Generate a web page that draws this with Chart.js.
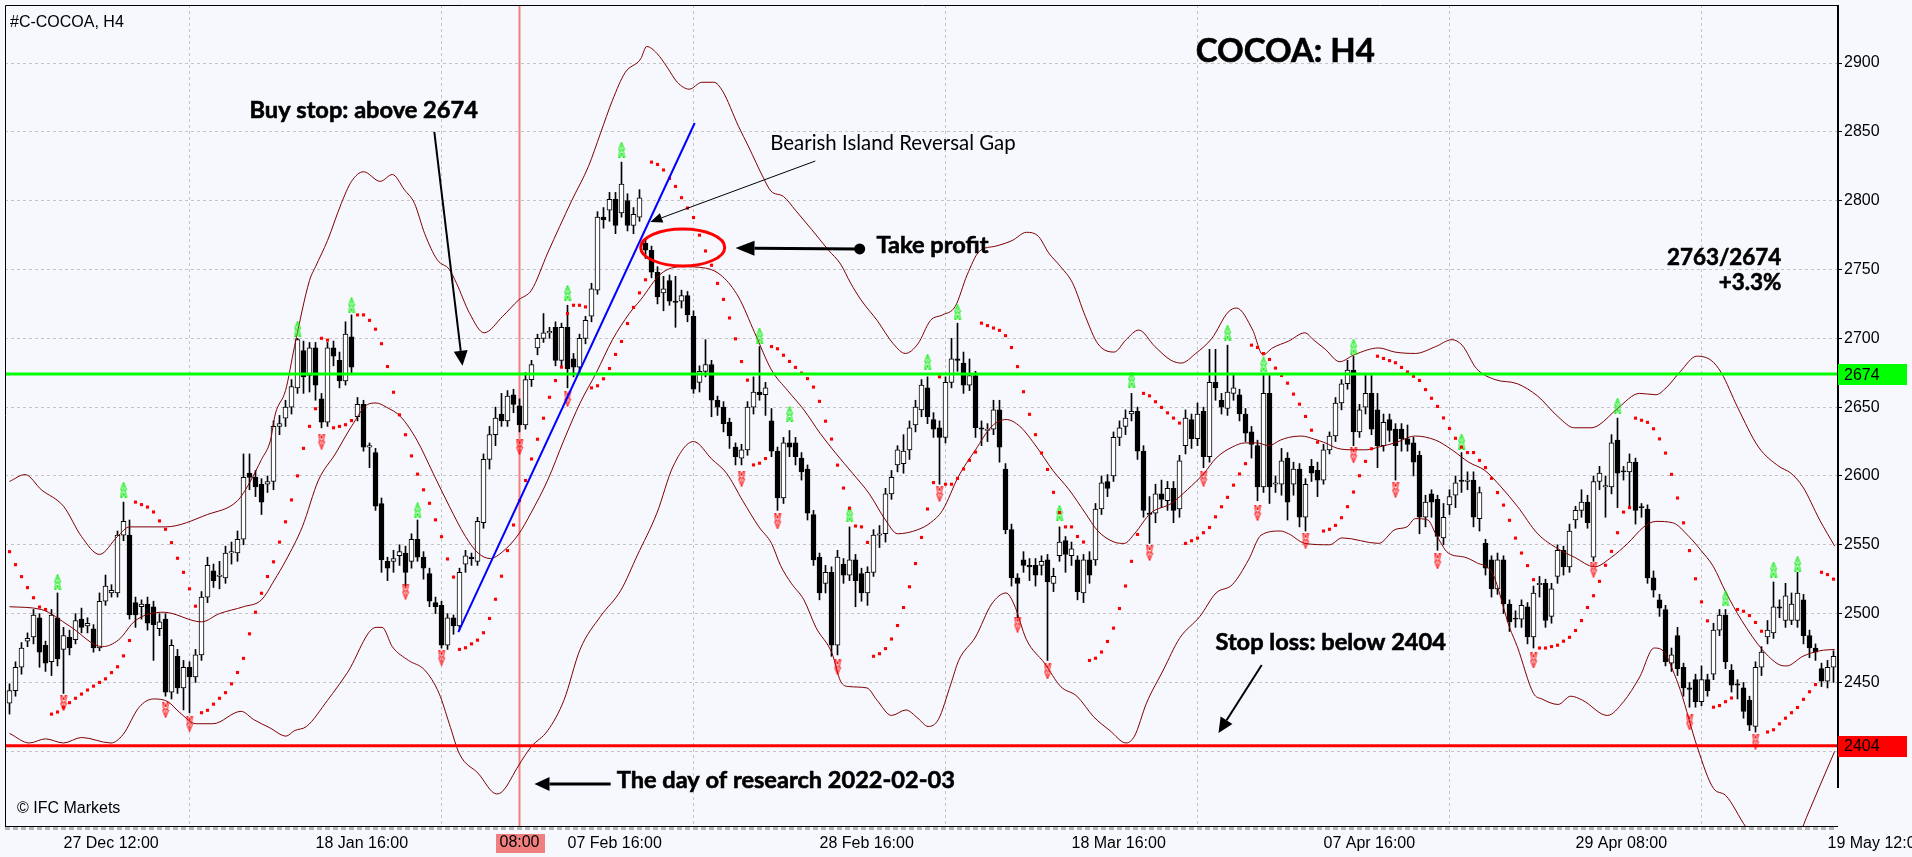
<!DOCTYPE html>
<html>
<head>
<meta charset="utf-8">
<title>COCOA: H4</title>
<script src="https://cdn.jsdelivr.net/npm/chart.js@4.4.1/dist/chart.umd.min.js"></script>
<style>
  html, body { margin: 0; padding: 0; background: #f6f8fe; }
  #wrap { width: 1912px; height: 857px; }
</style>
</head>
<body>
<div id="wrap"><canvas id="cocoachart" width="1912" height="857"></canvas></div>
<script>
"use strict";

/* H4 candles, oldest first (bar 0 .. 304) */
var barOpen = [
    2435, 2444, 2461, 2480, 2483, 2497, 2477, 2465, 2497, 2474,
    2483, 2481, 2496, 2491, 2489, 2475, 2509, 2515, 2515, 2557,
    2557, 2508, 2505, 2507, 2505, 2489, 2496, 2443, 2469, 2446,
    2461, 2454, 2470, 2512, 2531, 2527, 2526, 2544, 2544, 2554,
    2602, 2599, 2594, 2594, 2596, 2636, 2642, 2650, 2664, 2691,
    2673, 2693, 2656, 2639, 2693, 2684, 2669, 2701, 2643, 2652,
    2621, 2617, 2580, 2538, 2538, 2542, 2544, 2538, 2554, 2541,
    2529, 2508, 2506, 2477, 2497, 2491, 2536, 2541, 2538, 2566,
    2612, 2630, 2645, 2640, 2659, 2651, 2637, 2670, 2693, 2700,
    2704, 2708, 2684, 2708, 2685, 2679, 2700, 2716, 2735, 2788,
    2793, 2801, 2791, 2800, 2782, 2788, 2769, 2764, 2748, 2733,
    2742, 2727, 2727, 2731, 2716, 2668, 2676, 2681, 2655, 2650,
    2639, 2621, 2613, 2619, 2650, 2661, 2659, 2640, 2618, 2584,
    2624, 2624, 2613, 2605, 2572, 2541, 2522, 2530, 2477, 2536,
    2528, 2539, 2529, 2515, 2530, 2557, 2558, 2587, 2608, 2609,
    2619, 2637, 2648, 2664, 2641, 2635, 2628, 2668, 2685, 2682,
    2666, 2673, 2635, 2633, 2634, 2648, 2605, 2561, 2526, 2539,
    2535, 2535, 2535, 2539, 2522, 2542, 2553, 2542, 2539, 2515,
    2539, 2539, 2576, 2596, 2600, 2628, 2636, 2645, 2647, 2618,
    2573, 2573, 2587, 2582, 2591, 2576, 2622, 2641, 2627, 2647,
    2614, 2668, 2655, 2649, 2660, 2659, 2645, 2632, 2622, 2592,
    2660, 2594, 2594, 2613, 2594, 2605, 2570, 2607, 2604, 2597,
    2619, 2629, 2653, 2667, 2677, 2632, 2650, 2660, 2648, 2622,
    2641, 2634, 2634, 2627, 2624, 2615, 2570, 2587, 2583, 2555,
    2579, 2586, 2597, 2596, 2597, 2569, 2551, 2539, 2518, 2539,
    2507, 2496, 2496, 2505, 2483, 2521, 2522, 2498, 2527, 2546,
    2534, 2568, 2575, 2581, 2541, 2596, 2592, 2592, 2626, 2603,
    2603, 2610, 2577, 2576, 2526, 2510, 2503, 2464, 2484, 2461,
    2446, 2452, 2436, 2452, 2456, 2488, 2499, 2459, 2449, 2446,
    2437, 2418, 2461, 2483, 2486, 2505, 2495, 2495, 2495, 2510,
    2484, 2475, 2460, 2451, 2461
];
var barHigh = [
    2449, 2465, 2479, 2486, 2503, 2500, 2480, 2503, 2515, 2490,
    2488, 2500, 2504, 2497, 2492, 2515, 2528, 2521, 2560, 2581,
    2568, 2512, 2510, 2512, 2509, 2500, 2500, 2481, 2474, 2466,
    2465, 2474, 2516, 2541, 2536, 2538, 2549, 2552, 2560, 2616,
    2616, 2604, 2598, 2600, 2640, 2644, 2655, 2670, 2700, 2698,
    2697, 2697, 2660, 2697, 2698, 2690, 2712, 2717, 2657, 2655,
    2624, 2620, 2584, 2541, 2546, 2550, 2549, 2558, 2568, 2545,
    2533, 2512, 2509, 2500, 2499, 2533, 2546, 2544, 2570, 2616,
    2636, 2650, 2660, 2662, 2663, 2656, 2675, 2684, 2703, 2718,
    2708, 2712, 2711, 2724, 2689, 2703, 2716, 2740, 2792, 2795,
    2806, 2806, 2828, 2805, 2795, 2808, 2772, 2767, 2752, 2745,
    2746, 2745, 2735, 2734, 2720, 2680, 2699, 2684, 2658, 2654,
    2642, 2624, 2623, 2654, 2672, 2694, 2668, 2649, 2621, 2628,
    2633, 2628, 2617, 2608, 2575, 2544, 2535, 2534, 2546, 2540,
    2563, 2543, 2533, 2534, 2561, 2564, 2591, 2604, 2622, 2630,
    2640, 2655, 2670, 2672, 2646, 2640, 2672, 2700, 2711, 2690,
    2685, 2676, 2640, 2638, 2655, 2655, 2609, 2565, 2529, 2545,
    2540, 2540, 2542, 2543, 2533, 2563, 2556, 2552, 2542, 2543,
    2545, 2580, 2600, 2601, 2632, 2640, 2648, 2660, 2650, 2622,
    2585, 2594, 2597, 2596, 2596, 2615, 2648, 2645, 2653, 2650,
    2692, 2692, 2660, 2695, 2674, 2663, 2649, 2636, 2626, 2673,
    2673, 2600, 2620, 2617, 2610, 2609, 2598, 2612, 2610, 2623,
    2632, 2657, 2670, 2684, 2687, 2652, 2673, 2673, 2660, 2645,
    2645, 2638, 2638, 2637, 2628, 2618, 2586, 2590, 2586, 2580,
    2590, 2600, 2617, 2603, 2603, 2592, 2554, 2542, 2544, 2542,
    2510, 2502, 2510, 2508, 2520, 2527, 2525, 2522, 2550, 2549,
    2565, 2578, 2590, 2586, 2600, 2607, 2600, 2630, 2642, 2607,
    2616, 2613, 2580, 2579, 2531, 2514, 2506, 2475, 2490, 2464,
    2450, 2456, 2462, 2456, 2493, 2503, 2503, 2463, 2452, 2450,
    2440, 2465, 2476, 2495, 2523, 2510, 2522, 2515, 2530, 2514,
    2488, 2478, 2464, 2466, 2473
];
var barLow = [
    2427, 2440, 2456, 2476, 2478, 2461, 2458, 2455, 2462, 2442,
    2470, 2478, 2486, 2486, 2472, 2473, 2506, 2512, 2512, 2553,
    2496, 2490, 2496, 2488, 2466, 2484, 2440, 2438, 2442, 2430,
    2428, 2450, 2466, 2508, 2519, 2518, 2522, 2536, 2538, 2550,
    2590, 2585, 2572, 2588, 2590, 2630, 2636, 2645, 2660, 2660,
    2661, 2655, 2635, 2636, 2680, 2664, 2666, 2675, 2640, 2618,
    2606, 2575, 2530, 2524, 2530, 2535, 2520, 2533, 2538, 2525,
    2505, 2500, 2475, 2474, 2485, 2488, 2530, 2535, 2535, 2562,
    2605, 2622, 2636, 2636, 2646, 2632, 2634, 2665, 2688, 2697,
    2700, 2680, 2680, 2664, 2672, 2674, 2696, 2712, 2732, 2780,
    2785, 2776, 2788, 2778, 2776, 2785, 2758, 2744, 2725, 2720,
    2724, 2708, 2722, 2712, 2660, 2661, 2672, 2643, 2644, 2632,
    2620, 2608, 2608, 2615, 2645, 2655, 2644, 2614, 2575, 2580,
    2614, 2608, 2597, 2568, 2535, 2510, 2515, 2469, 2470, 2522,
    2524, 2505, 2509, 2506, 2527, 2548, 2552, 2583, 2603, 2602,
    2612, 2632, 2643, 2638, 2628, 2594, 2624, 2664, 2676, 2660,
    2662, 2628, 2622, 2625, 2630, 2610, 2558, 2520, 2497, 2530,
    2524, 2520, 2528, 2466, 2516, 2538, 2530, 2535, 2510, 2508,
    2522, 2535, 2572, 2585, 2596, 2622, 2630, 2640, 2612, 2570,
    2551, 2566, 2577, 2575, 2566, 2570, 2616, 2620, 2622, 2606,
    2610, 2655, 2645, 2644, 2655, 2640, 2625, 2613, 2582, 2588,
    2580, 2588, 2586, 2568, 2586, 2563, 2560, 2596, 2585, 2594,
    2616, 2625, 2648, 2663, 2622, 2628, 2645, 2630, 2606, 2618,
    2625, 2597, 2618, 2618, 2600, 2558, 2563, 2570, 2546, 2550,
    2572, 2577, 2588, 2590, 2563, 2560, 2528, 2512, 2514, 2500,
    2487, 2490, 2490, 2478, 2475, 2512, 2490, 2493, 2522, 2528,
    2530, 2562, 2570, 2562, 2538, 2590, 2570, 2587, 2577, 2597,
    2578, 2565, 2570, 2522, 2512, 2498, 2462, 2458, 2455, 2440,
    2432, 2432, 2433, 2440, 2452, 2484, 2460, 2443, 2438, 2424,
    2415, 2414, 2455, 2478, 2482, 2497, 2490, 2492, 2490, 2478,
    2468, 2466, 2447, 2446, 2450
];
var barClose = [
    2444, 2461, 2475, 2482, 2499, 2472, 2464, 2499, 2467, 2484,
    2475, 2495, 2490, 2493, 2475, 2509, 2520, 2517, 2557, 2567,
    2499, 2499, 2507, 2493, 2492, 2494, 2443, 2477, 2446, 2461,
    2454, 2470, 2512, 2535, 2524, 2528, 2544, 2545, 2554, 2599,
    2599, 2592, 2581, 2596, 2636, 2638, 2650, 2665, 2699, 2672,
    2693, 2666, 2639, 2693, 2687, 2669, 2703, 2679, 2652, 2621,
    2622, 2578, 2539, 2533, 2540, 2545, 2530, 2554, 2541, 2533,
    2509, 2505, 2477, 2497, 2491, 2530, 2542, 2540, 2567, 2612,
    2630, 2642, 2640, 2658, 2652, 2637, 2670, 2681, 2700, 2704,
    2705, 2684, 2708, 2678, 2679, 2700, 2713, 2736, 2788, 2786,
    2801, 2782, 2812, 2782, 2790, 2802, 2764, 2748, 2730, 2736,
    2727, 2726, 2731, 2717, 2663, 2676, 2681, 2655, 2650, 2638,
    2629, 2614, 2619, 2650, 2661, 2659, 2664, 2618, 2584, 2624,
    2621, 2614, 2603, 2573, 2539, 2515, 2530, 2477, 2541, 2528,
    2539, 2524, 2515, 2530, 2557, 2558, 2587, 2599, 2619, 2618,
    2635, 2650, 2666, 2643, 2634, 2628, 2668, 2685, 2684, 2666,
    2673, 2635, 2634, 2634, 2648, 2621, 2561, 2526, 2522, 2535,
    2534, 2528, 2538, 2523, 2527, 2552, 2543, 2547, 2516, 2539,
    2528, 2576, 2595, 2591, 2628, 2635, 2642, 2647, 2618, 2575,
    2572, 2587, 2583, 2591, 2575, 2611, 2642, 2627, 2645, 2614,
    2668, 2664, 2650, 2661, 2664, 2645, 2631, 2623, 2592, 2660,
    2592, 2595, 2611, 2581, 2605, 2570, 2594, 2602, 2597, 2619,
    2629, 2653, 2667, 2677, 2632, 2648, 2660, 2634, 2622, 2639,
    2633, 2622, 2627, 2623, 2610, 2570, 2581, 2581, 2556, 2570,
    2585, 2595, 2596, 2597, 2570, 2588, 2533, 2518, 2539, 2507,
    2494, 2496, 2506, 2483, 2515, 2522, 2495, 2518, 2546, 2534,
    2560, 2575, 2581, 2566, 2596, 2602, 2593, 2624, 2602, 2603,
    2610, 2575, 2577, 2526, 2517, 2504, 2465, 2470, 2460, 2446,
    2445, 2436, 2452, 2444, 2488, 2499, 2465, 2448, 2448, 2429,
    2419, 2461, 2472, 2488, 2505, 2504, 2513, 2507, 2515, 2484,
    2475, 2472, 2451, 2461, 2469
];

/* time axis: bar index of each grid line and its label */
var tickBars = [9, 51, 93, 135, 177, 219, 261, 303];
var tickLabels = ['27 Dec 12:00', '18 Jan 16:00', '07 Feb 16:00', '28 Feb 16:00',
    '18 Mar 16:00', '07 Apr 16:00', '29 Apr 08:00', '19 May 12:00'];
var priceTicks = [2400, 2450, 2500, 2550, 2600, 2650, 2700, 2750, 2800, 2850, 2900];

/* bollinger bands, [bar, price] */
var bbUpper = [
    [0, 2596], [2.6, 2601], [5.3, 2590], [9, 2578], [12, 2556], [15, 2543], [18, 2556], [20, 2563],
    [26, 2563], [33, 2572], [38, 2582], [40, 2595], [42, 2612], [43.5, 2626], [44.3, 2645], [46, 2662],
    [47.5, 2694], [50, 2742], [51, 2752], [53, 2771], [55.3, 2798], [57, 2814], [59, 2821], [61.8, 2814],
    [63.8, 2819], [65.8, 2808], [67.5, 2798], [69.2, 2776], [71.3, 2757], [73.3, 2750], [74.5, 2740],
    [76.7, 2718], [79.1, 2704], [82.2, 2716], [84.9, 2728], [87, 2735], [89.7, 2762], [93.7, 2800],
    [96.5, 2825], [98.5, 2849], [100.5, 2873], [102.6, 2893], [105.2, 2903], [106.2, 2912], [107.9, 2907],
    [109.6, 2897], [111.3, 2886], [113.3, 2881], [115.4, 2886], [117.4, 2886], [118.8, 2880], [121.5, 2854],
    [123.2, 2839], [125.6, 2817], [126.9, 2807], [129, 2803], [131, 2793], [133.7, 2779], [136.5, 2764],
    [138.5, 2754], [140.2, 2740], [141.9, 2728], [144.6, 2713], [147.3, 2696], [149.3, 2689], [151.4, 2696],
    [153.5, 2713], [155.5, 2717], [157.6, 2723], [159.6, 2746], [161.6, 2763], [164.4, 2767], [167.1, 2771],
    [169.5, 2777], [171.5, 2774], [173.2, 2762], [175.2, 2752], [177.2, 2740], [179.3, 2716], [181.4, 2696],
    [184.1, 2690], [186.1, 2699], [188.2, 2706], [190.9, 2694], [193.6, 2684], [195.3, 2682], [197.7, 2689],
    [200.4, 2700], [203.1, 2719], [204.5, 2722], [207.2, 2706], [208.9, 2688], [210.5, 2693], [213.2, 2698],
    [215.9, 2704], [217.3, 2699], [219.3, 2692], [221.7, 2683], [224.1, 2688], [228.2, 2693], [230.9, 2690],
    [234.3, 2689], [237.7, 2694], [240.4, 2699], [242.1, 2695], [244.5, 2678], [247.6, 2670], [251.3, 2667],
    [254.7, 2658], [258.1, 2643], [260.8, 2635], [263.6, 2635], [264.9, 2637], [268, 2649], [271.7, 2660],
    [274.4, 2659], [276.1, 2664], [278.5, 2676], [281.2, 2687], [283.6, 2684], [285.3, 2675], [288, 2650],
    [291.5, 2621], [294.9, 2607], [296.9, 2602], [298.9, 2592], [301.7, 2568], [304.2, 2549]
];
var bbMiddle = [
    [0, 2505], [5.3, 2503], [10, 2491], [15.5, 2476], [18.2, 2481], [21, 2495], [25.7, 2501], [32, 2494],
    [35, 2500], [39, 2505], [42, 2510], [44.1, 2524], [46.1, 2539], [48.8, 2563], [51.5, 2597], [54.3, 2616],
    [57, 2636], [59.7, 2652], [61.1, 2653], [62.8, 2650], [65.2, 2643], [67.9, 2626], [70.6, 2602],
    [73.3, 2578], [76, 2556], [78.1, 2544], [80.1, 2540], [82.2, 2545], [84.9, 2558], [86.9, 2573],
    [89.7, 2597], [92.4, 2626], [95.1, 2653], [97.8, 2675], [100.5, 2699], [103.3, 2718], [105.2, 2728],
    [108.6, 2747], [112, 2752], [116, 2751], [118.8, 2745], [121.5, 2730], [124.2, 2704], [127, 2677],
    [129.7, 2662], [132.4, 2648], [135.1, 2631], [137.8, 2616], [140.5, 2602], [143.3, 2587], [146, 2568],
    [148, 2558], [151.4, 2561], [153.5, 2566], [155.5, 2575], [158.2, 2600], [161, 2619], [163.7, 2636],
    [166.1, 2641], [168.4, 2636], [171.2, 2621], [173.9, 2604], [176.6, 2590], [179.3, 2573], [181.4, 2560],
    [184.1, 2552], [185.8, 2551], [187.5, 2558], [190.2, 2573], [193.6, 2580], [196.3, 2590], [199.1, 2602],
    [201.1, 2613], [203.8, 2621], [205.9, 2624], [207.9, 2624], [209.9, 2622], [211.8, 2626], [213.2, 2628],
    [215.3, 2629], [217.3, 2627], [219.3, 2624], [221.4, 2620], [224.1, 2619], [226.1, 2619], [228.2, 2621],
    [230.9, 2624], [234.3, 2629], [237.7, 2626], [240.4, 2619], [243.2, 2610], [245.9, 2604], [248.6, 2592],
    [251.3, 2578], [254.7, 2558], [258.1, 2547], [260.8, 2541], [264.2, 2534], [267, 2541], [269.7, 2551],
    [272.4, 2563], [274.4, 2567], [277.2, 2566], [279.9, 2556], [281.9, 2546], [284, 2534], [286, 2516],
    [288.7, 2495], [292.1, 2474], [294.9, 2463], [296.2, 2462], [298.9, 2469], [301.7, 2473], [304.2, 2474]
];
var bbLower = [
    [0, 2413], [3.3, 2406], [6, 2409], [9, 2406], [12, 2410], [16.9, 2406], [18.9, 2412], [21.6, 2432],
    [24, 2438], [26.4, 2436], [28.4, 2428], [31.1, 2420], [33.9, 2420], [38.6, 2429], [40.7, 2423],
    [43.4, 2417], [46.1, 2411], [47.5, 2415], [49.5, 2418], [53, 2437], [56.3, 2457], [61.1, 2490],
    [62.1, 2490], [63.8, 2476], [66.5, 2466], [69.2, 2459], [71.6, 2442], [73.3, 2420], [75, 2398],
    [78.1, 2384], [81.2, 2369], [82.2, 2371], [84.9, 2390], [86.9, 2403], [89.7, 2415], [92.4, 2437],
    [95.1, 2474], [98.5, 2498], [101.9, 2517], [104.6, 2542], [107.9, 2573], [110.6, 2607], [114, 2625],
    [117.1, 2612], [119.5, 2602], [122.2, 2582], [124.9, 2563], [127, 2551], [128.5, 2535], [130.3, 2522],
    [132.4, 2510], [134.4, 2490], [137.1, 2471], [138.5, 2451], [139.9, 2447], [142.9, 2446], [144.6, 2437],
    [147, 2426], [149.4, 2430], [151.4, 2424], [153.1, 2418], [154.8, 2423], [156.9, 2449], [158.2, 2466],
    [161, 2483], [163.7, 2507], [166.1, 2515], [167.4, 2507], [169.5, 2481], [172.5, 2464], [175.2, 2447],
    [177.9, 2440], [180.7, 2425], [183.4, 2415], [186.1, 2406], [187.5, 2411], [189.5, 2435], [192.3, 2459],
    [195, 2482], [198.4, 2498], [201.1, 2515], [203.8, 2521], [206.5, 2539], [208.6, 2557], [211.8, 2560],
    [213.2, 2558], [215.9, 2551], [220, 2550], [222.1, 2555], [228.2, 2551], [230.9, 2561], [232.9, 2563],
    [234.3, 2569], [236.4, 2568], [237.7, 2558], [239.8, 2544], [242.5, 2541], [244.5, 2537], [247.2, 2529],
    [250, 2490], [251.3, 2476], [254, 2442], [255.4, 2438], [258.1, 2434], [260.2, 2440], [262.2, 2437],
    [266.3, 2426], [269, 2436], [271.7, 2454], [274.1, 2475], [275.8, 2472], [277.2, 2459], [278.5, 2444],
    [281.3, 2403], [284, 2373], [286, 2368], [289.4, 2345], [292, 2332], [295, 2326], [298, 2336],
    [299.5, 2352], [304.2, 2400]
];

/* fractal arrows, [bar, price] */
var fractalUp = [
    [8, 2523], [19, 2590], [48, 2707], [57, 2724], [68, 2575], [93, 2733], [102, 2837], [125, 2702],
    [130, 2645], [140, 2572], [153, 2683], [158, 2719], [175, 2573], [187, 2670], [203, 2704], [209, 2681],
    [224, 2694], [242, 2625], [268, 2651], [286, 2511], [294, 2532], [298, 2536]
];
var fractalDown = [
    [9, 2435], [26, 2430], [30, 2420], [52, 2625], [66, 2516], [72, 2468], [85, 2621], [93, 2656],
    [122, 2598], [128, 2567], [138, 2461], [155, 2587], [168, 2492], [173, 2458], [190, 2544], [199, 2598],
    [208, 2573], [216, 2553], [224, 2615], [231, 2590], [238, 2538], [254, 2466], [264, 2532], [280, 2421],
    [291, 2407]
];

/* trade levels */
var buyStopLevel = 2674;
var stopLossLevel = 2404;
var researchBar = 85;
var researchLabel = '08:00';
var trendLine = [[74.8, 2486.6], [114.2, 2856.4]];

var xMin = -0.75, xMax = 304.5833;
var yMin = 2345.7, yMax = 2942.14;

/* parabolic SAR 0.02 / 0.2 worked out from the highs and lows above */
function parabolicSar(high, low) {
    var out = [];
    var up = false, sar = 2545, ep = low[0], af = 0.08;
    out.push(sar);
    for (var i = 1; i < high.length; i++) {
        sar = sar + af * (ep - sar);
        if (up) {
            sar = Math.min(sar, low[i - 1], low[Math.max(i - 2, 0)]);
            if (low[i] < sar) {
                up = false; sar = ep; ep = low[i]; af = 0.02;
            } else if (high[i] > ep) {
                ep = high[i]; af = Math.min(af + 0.02, 0.2);
            }
        } else {
            sar = Math.max(sar, high[i - 1], high[Math.max(i - 2, 0)]);
            if (high[i] > sar) {
                up = true; sar = ep; ep = high[i]; af = 0.02;
            } else if (low[i] < ep) {
                ep = low[i]; af = Math.min(af + 0.02, 0.2);
            }
        }
        out.push(sar);
    }
    return out;
}
var sarValues = parabolicSar(barHigh, barLow);

/* thin "A" shaped arrows used for the fractals */
function fractalGlyph(color, down) {
    var c = document.createElement('canvas');
    c.width = 8; c.height = 16;
    var g = c.getContext('2d');
    var pts = [[4, 0.5], [7, 8], [5.5, 8], [7, 15.5], [5.5, 15.5], [4, 11], [2.5, 15.5], [1, 15.5], [2.5, 8], [1, 8]];
    g.strokeStyle = color;
    g.lineWidth = 1;
    g.beginPath();
    pts.forEach(function (p, k) {
        var yy = down ? 16 - p[1] : p[1];
        if (k === 0) g.moveTo(p[0], yy); else g.lineTo(p[0], yy);
    });
    g.closePath();
    g.stroke();
    g.beginPath();
    g.moveTo(4, down ? 13 : 3);
    g.lineTo(4, down ? 6 : 10);
    g.stroke();
    return c;
}

var tickFont = { family: "'Liberation Sans', Arial, sans-serif", size: 16 };
var noteFont = "Lato, 'Open Sans', sans-serif";

function toXY(list) {
    return list.map(function (p) { return { x: p[0], y: p[1] }; });
}

var barIndex = barOpen.map(function (v, i) { return i; });

function drawArrow(c, x1, y1, x2, y2, width, headLen, headHalf) {
    var ang = Math.atan2(y2 - y1, x2 - x1);
    var bx = x2 - headLen * Math.cos(ang), by = y2 - headLen * Math.sin(ang);
    c.lineWidth = width;
    c.beginPath();
    c.moveTo(x1, y1);
    c.lineTo(bx, by);
    c.stroke();
    c.beginPath();
    c.moveTo(x2, y2);
    c.lineTo(bx + headHalf * Math.sin(ang), by - headHalf * Math.cos(ang));
    c.lineTo(bx - headHalf * Math.sin(ang), by + headHalf * Math.cos(ang));
    c.closePath();
    c.fill();
}

/* bold note, with a hairline stroke so it reads as heavy as the original */
function heavyText(c, text, x, y) {
    c.fillText(text, x, y);
    c.lineWidth = 0.6;
    c.strokeText(text, x, y);
}

/* background, frame, level tags and the analyst's notes */
var overlayPlugin = {
    id: 'overlay',
    beforeDraw: function (chart) {
        var c = chart.ctx;
        c.save();
        c.fillStyle = '#f6f8fe';
        c.fillRect(0, 0, chart.width, chart.height);
        c.restore();
    },
    afterDraw: function (chart) {
        var c = chart.ctx, area = chart.chartArea;
        var xs = chart.scales.x, ys = chart.scales.y;
        var px = function (v) { return xs.getPixelForValue(v); };
        var py = function (v) { return ys.getPixelForValue(v); };
        c.save();

        // frame
        c.strokeStyle = '#000';
        c.lineWidth = 1;
        c.beginPath();
        c.moveTo(area.left + 0.5, area.bottom);
        c.lineTo(area.left + 0.5, area.top + 0.5);
        c.lineTo(area.right + 2, area.top + 0.5);
        c.stroke();
        c.lineWidth = 2;
        c.beginPath();
        c.moveTo(area.right + 1, area.top);
        c.lineTo(area.right + 1, area.bottom - 38);
        c.stroke();

        // strip under the time axis
        c.strokeStyle = '#b4b4b4';
        c.lineWidth = 3;
        c.setLineDash([5, 3]);
        c.beginPath();
        c.moveTo(area.left, area.bottom + 2.5);
        c.lineTo(area.right, area.bottom + 2.5);
        c.stroke();
        c.setLineDash([]);

        // price tags for the two levels
        c.font = '16px ' + tickFont.family;
        c.textBaseline = 'middle';
        c.textAlign = 'left';
        [[buyStopLevel, '#00ff00'], [stopLossLevel, '#ff0000']].forEach(function (lv) {
            var yy = py(lv[0]);
            c.fillStyle = lv[1];
            c.fillRect(area.right + 1, Math.round(yy) - 10, 69, 21);
            c.fillStyle = '#000';
            c.fillText(String(lv[0]), area.right + 7, yy + 1);
        });

        // research time tag
        var rx = px(researchBar);
        c.fillStyle = '#f08080';
        c.fillRect(Math.round(rx) - 24, area.bottom + 8, 49, 19);
        c.fillStyle = '#000';
        c.textAlign = 'center';
        c.textBaseline = 'top';
        c.fillText(researchLabel, rx, area.bottom + 9);

        // corner captions
        c.textAlign = 'left';
        c.textBaseline = 'alphabetic';
        c.fillText('#C-COCOA, H4', area.left + 5, area.top + 22);
        c.fillText('\u00A9 IFC Markets', area.left + 12, area.bottom - 13);

        // notes
        c.fillStyle = '#000';
        c.strokeStyle = '#000';
        c.font = 'bold 33px ' + noteFont;
        heavyText(c, 'COCOA: H4', px(197.7), py(2900.7));
        c.font = 'bold 23.6px ' + noteFont;
        heavyText(c, 'Buy stop: above 2674', px(40), py(2860));
        heavyText(c, 'Take profit', px(144.5), py(2762));
        heavyText(c, 'Stop loss: below 2404', px(201), py(2473.6));
        heavyText(c, 'The day of research 2022-02-03', px(101.2), py(2373.3));
        c.textAlign = 'right';
        c.font = 'bold 22.4px ' + noteFont;
        heavyText(c, '2763/2674', px(295.3), py(2753.3));
        heavyText(c, '+3.3%', px(295.3), py(2735));
        c.textAlign = 'left';
        c.font = '20.4px ' + noteFont;
        c.fillText('Bearish Island Reversal Gap', px(126.8), py(2836.8));

        // arrows
        drawArrow(c, px(70.8), py(2850), px(75.5), py(2680), 2, 15, 7);
        drawArrow(c, px(134.3), py(2828.8), px(106.8), py(2784.5), 1, 12, 5);
        drawArrow(c, px(141.7), py(2764.9), px(121), py(2765.6), 3, 19, 7.5);
        drawArrow(c, px(208.7), py(2462.7), px(201.5), py(2413.3), 2, 15, 7);
        drawArrow(c, px(100.2), py(2376.2), px(87.5), py(2376.2), 3, 15, 7);
        c.beginPath();
        c.arc(px(141.7), py(2764.9), 5.5, 0, 2 * Math.PI);
        c.fill();

        // gap ellipse
        c.strokeStyle = '#ff0000';
        c.lineWidth = 3;
        c.beginPath();
        c.ellipse(px(112.2), py(2766), px(119.2) - px(112.2), py(2752.6) - py(2766), 0, 0, 2 * Math.PI);
        c.stroke();
        c.restore();
    }
};

var canvasEl = document.getElementById('cocoachart');
var cocoaChart = new Chart(canvasEl, {
    type: 'bar',
    data: {
        datasets: [{
            type: 'line',
            label: 'research',
            data: [{ x: researchBar, y: yMin }, { x: researchBar, y: yMax }],
            borderColor: '#f08080',
            borderWidth: 2,
            pointRadius: 0,
            order: 9
        }, {
            label: 'wick',
            data: barIndex.map(function (i) { return { x: i, y: [barLow[i], barHigh[i]] }; }),
            backgroundColor: '#000',
            borderWidth: 0,
            barThickness: 1,
            grouped: false,
            order: 7
        }, {
            label: 'body',
            data: barIndex.map(function (i) {
                var lo = Math.min(barOpen[i], barClose[i]);
                var hi = Math.max(barOpen[i], barClose[i], lo + 0.8);
                return { x: i, y: [lo, hi] };
            }),
            backgroundColor: barIndex.map(function (i) { return barClose[i] > barOpen[i] ? '#ffffff' : '#000000'; }),
            borderColor: '#000',
            borderWidth: 1,
            borderSkipped: false,
            barThickness: 5,
            grouped: false,
            order: 6
        }, {
            type: 'line', label: 'bb upper', data: toXY(bbUpper),
            borderColor: '#800000', borderWidth: 1, pointRadius: 0, cubicInterpolationMode: 'monotone', order: 4
        }, {
            type: 'line', label: 'bb middle', data: toXY(bbMiddle),
            borderColor: '#800000', borderWidth: 1, pointRadius: 0, cubicInterpolationMode: 'monotone', order: 4
        }, {
            type: 'line', label: 'bb lower', data: toXY(bbLower),
            borderColor: '#800000', borderWidth: 1, pointRadius: 0, cubicInterpolationMode: 'monotone', order: 4
        }, {
            type: 'scatter', label: 'sar',
            data: sarValues.map(function (v, i) { return { x: i, y: v }; }),
            pointStyle: 'rect', pointRadius: 2.2, backgroundColor: '#ff0000', borderWidth: 0, order: 3
        }, {
            type: 'scatter', label: 'fractal up', data: toXY(fractalUp),
            pointStyle: fractalGlyph('#00ee00', false), order: 3
        }, {
            type: 'scatter', label: 'fractal down', data: toXY(fractalDown),
            pointStyle: fractalGlyph('#ff0000', true), order: 3
        }, {
            type: 'line', label: 'buy stop',
            data: [{ x: xMin, y: buyStopLevel }, { x: xMax, y: buyStopLevel }],
            borderColor: '#00ff00', borderWidth: 3, pointRadius: 0, order: 2
        }, {
            type: 'line', label: 'stop loss',
            data: [{ x: xMin, y: stopLossLevel }, { x: xMax, y: stopLossLevel }],
            borderColor: '#ff0000', borderWidth: 3, pointRadius: 0, order: 2
        }, {
            type: 'line', label: 'trend', data: toXY(trendLine),
            borderColor: '#0000ff', borderWidth: 2, pointRadius: 0, order: 1
        }]
    },
    options: {
        responsive: false,
        animation: false,
        devicePixelRatio: 1,
        layout: { padding: { left: 5, top: 5, right: 0, bottom: 0 } },
        plugins: {
            legend: { display: false },
            tooltip: { enabled: false }
        },
        scales: {
            x: {
                type: 'linear',
                min: xMin,
                max: xMax,
                offset: false,
                grid: { color: '#c4c4c4', lineWidth: 1, drawTicks: false },
                border: { display: true, color: '#000', width: 1, dash: [3, 3] },
                ticks: {
                    autoSkip: false,
                    maxRotation: 0,
                    align: 'start',
                    padding: 8,
                    color: '#000',
                    font: tickFont,
                    callback: function (value) {
                        var k = tickBars.indexOf(value);
                        return k < 0 ? '' : tickLabels[k];
                    }
                },
                afterBuildTicks: function (s) {
                    s.ticks = tickBars.map(function (v) { return { value: v }; });
                },
                afterFit: function (s) {
                    s.height = 31;
                    s.paddingLeft = 0;
                    s.paddingRight = 0;
                }
            },
            y: {
                type: 'linear',
                position: 'right',
                min: yMin,
                max: yMax,
                grid: { color: '#c4c4c4', lineWidth: 1, drawTicks: true, tickLength: 5, tickColor: '#000', tickWidth: 1 },
                border: { display: false, dash: [3, 3] },
                ticks: {
                    padding: 2,
                    color: '#000',
                    font: tickFont,
                    callback: function (value) { return String(value); }
                },
                afterBuildTicks: function (s) {
                    s.ticks = priceTicks.map(function (v) { return { value: v }; });
                },
                afterFit: function (s) {
                    s.width = 75;
                    s.paddingTop = 0;
                    s.paddingBottom = 0;
                }
            }
        }
    },
    plugins: [overlayPlugin]
});
</script>
</body>
</html>
